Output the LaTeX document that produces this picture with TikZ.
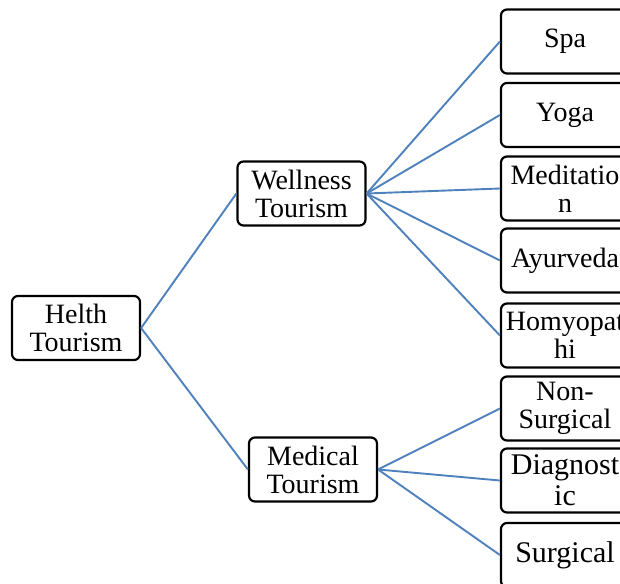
\documentclass[tikz,border=0pt]{standalone}
\usepackage{fontspec}
\setmainfont{Liberation Serif}
\usepackage{xcolor}
\usepackage{tikz}
\definecolor{link}{HTML}{4F81BD}
\tikzset{
  box/.style={draw=black, line width=2.2pt, rounded corners=6pt, fill=white,
    minimum width=128pt, minimum height=64pt, inner sep=0pt, align=center,
    font=\fontsize{28}{28}\selectfont},
  bigbox/.style={box, font=\fontsize{30}{31}\selectfont},
  edge/.style={draw=link, line width=1.9pt}
}
\begin{document}
\begin{tikzpicture}[x=1pt, y=-1pt]
  \clip (0,0) rectangle (620,583);
  \fill[white] (0,0) rectangle (620,583);

  % levels
  \node[box] (helth) at (76,328) {Helth\\Tourism};
  \node[box] (wellness) at (301.5,193.5) {Wellness\\Tourism};
  \node[box] (medical) at (313,469.5) {Medical\\Tourism};

  \node[box] (spa) at (565,41.5) {Spa};
  \node[box] (yoga) at (565,115) {Yoga};
  \node[box] (meditation) at (565,188.5) {Meditatio\\n};
  \node[box] (ayurveda) at (565,260.5) {Ayurveda};
  \node[box] (homyopathi) at (565,335.5) {Homyopat\\hi};
  \node[box] (nonsurgical) at (565,408.5) {Non-\\Surgical};
  \node[bigbox] (diagnostic) at (565,480.5) {Diagnost\\ic};
  \node[bigbox] (surgical) at (565,555) {Surgical};

  \draw[edge] (helth.east) -- (wellness.west);
  \draw[edge] (helth.east) -- (medical.west);
  \foreach \n in {spa,yoga,meditation,ayurveda,homyopathi}
    \draw[edge] (wellness.east) -- (\n.west);
  \foreach \n in {nonsurgical,diagnostic,surgical}
    \draw[edge] (medical.east) -- (\n.west);
\end{tikzpicture}
\end{document}
